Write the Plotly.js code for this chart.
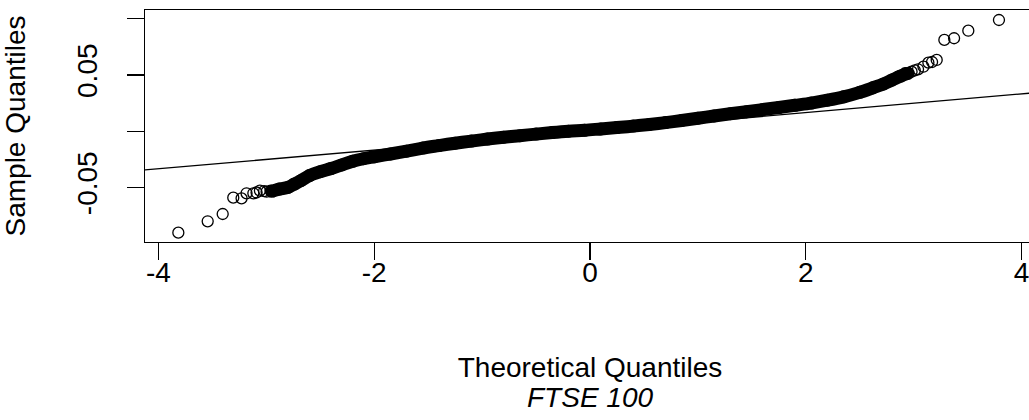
<!DOCTYPE html>
<html><head><meta charset="utf-8">
<script src="https://cdn.plot.ly/plotly-3.0.1.min.js"></script>
<style>html,body{margin:0;padding:0;overflow:hidden;background:#fff}#chart{width:1040px;height:420px}</style>
</head><body><div id="chart"></div>
<script>
// Dense core of the Q-Q points (theoretical quantile, sample quantile)
const bandX = [-2.95,-2.88,-2.80,-2.74,-2.68,-2.60,-2.50,-2.40,-2.30,-2.20,-2.10,-2.00,-1.85,-1.70,-1.55,-1.40,-1.25,-1.10,-0.95,-0.80,-0.65,-0.50,-0.35,-0.20,-0.05,0.10,0.25,0.40,0.55,0.70,0.85,1.00,1.15,1.30,1.45,1.60,1.75,1.90,2.05,2.20,2.35,2.50,2.62,2.72,2.80,2.88,2.95];
const bandY = [-0.0535,-0.0515,-0.0500,-0.0470,-0.0440,-0.0395,-0.0360,-0.0332,-0.0300,-0.0268,-0.0245,-0.0228,-0.0203,-0.0178,-0.0150,-0.0128,-0.0107,-0.0088,-0.0070,-0.0054,-0.0040,-0.0026,-0.0012,0.0000,0.0008,0.0020,0.0032,0.0045,0.0060,0.0076,0.0095,0.0115,0.0135,0.0155,0.0173,0.0192,0.0210,0.0230,0.0250,0.0275,0.0305,0.0345,0.0385,0.0420,0.0455,0.0490,0.0515];
// Sparse tail points, read individually
const tailX = [-3.815,-3.543,-3.404,-3.306,-3.229,-3.183,-3.120,-3.090,-3.059,-3.020,-2.997,-2.960,2.857,2.920,2.980,3.010,3.040,3.090,3.136,3.170,3.213,3.284,3.374,3.506,3.790];
const tailY = [-0.0902,-0.0801,-0.0736,-0.0591,-0.0597,-0.0552,-0.0552,-0.0545,-0.0529,-0.0532,-0.0538,-0.0528,0.0484,0.0515,0.0529,0.0540,0.0550,0.0573,0.0609,0.0615,0.0633,0.0811,0.0826,0.0893,0.0988];
// Reference line (qqline) end points
const lineX = [-4.2, 4.2];
const lineY = [-0.0351, 0.0348];
const xTickVals = [-4, -2, 0, 2, 4];
const xTickText = ['-4', '-2', '0', '2', '4'];
const yTickVals = [-0.05, 0, 0.05, 0.1];
const yTickText = ['-0.05', '', '0.05', ''];

const FONT = 'Liberation Sans, Arial, sans-serif';
const traces = [
  {x: bandX, y: bandY, type: 'scatter', mode: 'lines+markers', line: {color: '#000', width: 13, shape: 'spline'},
   marker: {symbol: 'circle', size: 13, color: '#000'}, hoverinfo: 'x+y'},
  {x: tailX, y: tailY, type: 'scatter', mode: 'markers',
   marker: {symbol: 'circle-open', size: 11, color: '#000', line: {width: 1.3, color: '#000'}}},
  {x: lineX, y: lineY, type: 'scatter', mode: 'lines', line: {color: '#000', width: 1.3}}
];
const layout = {
  width: 1040, height: 420,
  margin: {l: 145, r: 5, t: 10, b: 178},
  paper_bgcolor: '#fff', plot_bgcolor: '#fff',
  showlegend: false,
  font: {family: FONT, size: 28, color: '#000'},
  xaxis: {range: [-4.124, 4.124], showgrid: false, zeroline: false, showline: true, mirror: true,
    linecolor: '#000', linewidth: 1.3, ticks: 'outside', ticklen: 17, tickwidth: 1.3, tickcolor: '#000',
    tickvals: xTickVals, ticktext: xTickText, ticklabelstandoff: -12,
    tickfont: {family: FONT, size: 28, color: '#000'},
    title: {text: 'Theoretical Quantiles', standoff: 70, font: {family: FONT, size: 28, color: '#000'}}},
  yaxis: {range: [-0.0985, 0.1077], showgrid: false, zeroline: false, showline: true, mirror: true,
    linecolor: '#000', linewidth: 1.3, ticks: 'outside', ticklen: 17, tickwidth: 1.3, tickcolor: '#000',
    tickvals: yTickVals, ticktext: yTickText, tickangle: -90, ticklabelstandoff: 19,
    tickfont: {family: FONT, size: 28, color: '#000'},
    title: {text: 'Sample Quantiles', standoff: 37, font: {family: FONT, size: 28, color: '#000'}}},
  annotations: [{text: '<i>FTSE 100</i>', xref: 'paper', yref: 'paper', x: 0.5, y: 0, xanchor: 'center',
    yanchor: 'middle', yshift: -155, showarrow: false, font: {family: FONT, size: 28, color: '#000'}}]
};
Plotly.newPlot('chart', traces, layout, {staticPlot: true, displayModeBar: false});
</script></body></html>
